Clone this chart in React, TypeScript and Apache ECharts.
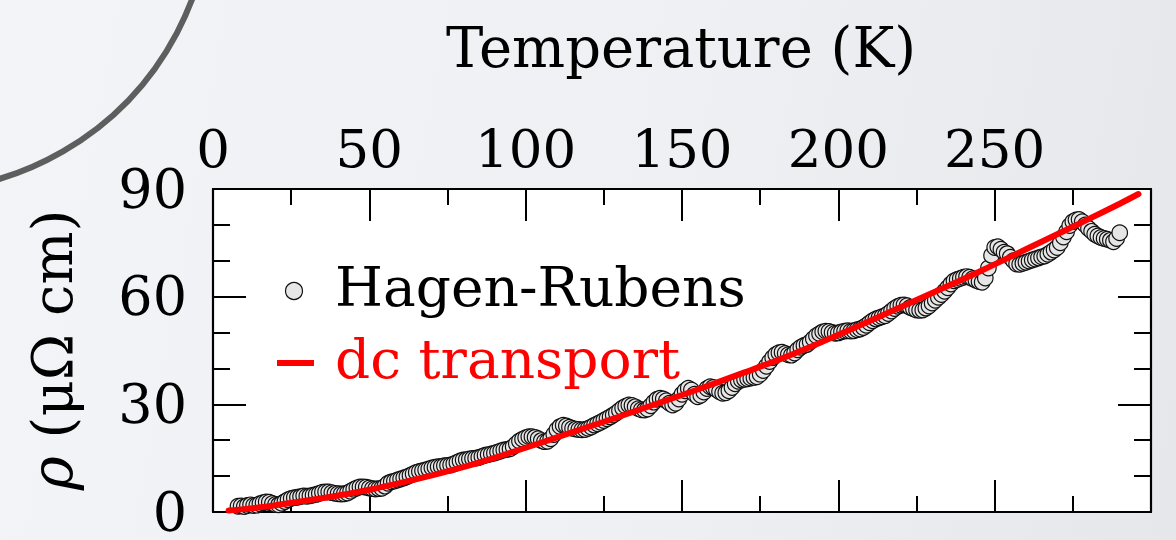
import React, { useEffect, useRef } from "react";
import * as echarts from "echarts";

// Hagen-Rubens resistivity (µΩ cm), one point per kelvin starting at 8 K
const hrFirstTemp = 8;
const hrTempStep = 1;
const hagenRubens = [
  1.6, 1.7, 1.5, 1.8, 2.0, 1.8, 1.9, 2.3, 2.6, 2.8,
  2.7, 2.4, 2.1, 2.0, 2.4, 2.9, 3.4, 3.8, 4.0, 4.1,
  4.3, 4.5, 4.4, 4.5, 4.7, 4.9, 5.2, 5.5, 5.6, 5.6,
  5.4, 5.2, 5.1, 5.0, 5.1, 5.3, 5.8, 6.3, 6.7, 7.0,
  7.0, 6.9, 6.7, 6.5, 6.4, 6.5, 6.6, 7.2, 8.0, 8.4,
  8.6, 8.9, 9.2, 9.5, 9.8, 10.2, 10.6, 11.0, 11.3, 11.5,
  11.7, 12.0, 12.3, 12.5, 12.6, 12.7, 12.9, 13.0, 13.1, 13.4,
  13.8, 14.2, 14.5, 14.6, 14.8, 14.9, 15.0, 15.2, 15.5, 15.8,
  16.0, 16.2, 16.4, 16.7, 17.0, 17.3, 17.4, 17.6, 18.2, 19.0,
  19.8, 20.3, 20.7, 21.0, 21.0, 20.8, 20.4, 19.9, 19.6, 19.7,
  20.4, 21.6, 22.9, 23.8, 24.2, 24.0, 23.6, 23.3, 23.1, 23.0,
  22.9, 23.0, 23.3, 23.7, 24.2, 24.6, 25.0, 25.5, 26.0, 26.5,
  27.0, 27.6, 28.3, 29.0, 29.5, 29.8, 29.7, 29.3, 28.8, 28.5,
  28.4, 28.7, 29.6, 30.6, 31.4, 31.7, 31.5, 31.0, 30.3, 29.8,
  30.3, 31.5, 32.8, 33.8, 34.5, 34.0, 32.8, 32.1, 32.5, 33.4,
  34.4, 34.9, 34.7, 34.1, 33.5, 33.1, 33.2, 33.8, 34.7, 35.7,
  36.4, 36.8, 37.0, 37.1, 37.3, 37.5, 37.7, 38.4, 39.4, 40.6,
  41.9, 43.0, 43.9, 44.4, 44.5, 44.2, 43.8, 43.7, 44.3, 45.2,
  45.9, 46.4, 46.7, 47.4, 48.3, 49.1, 49.7, 50.2, 50.4, 50.3,
  50.0, 49.8, 49.9, 50.2, 50.4, 50.5, 50.4, 50.5, 50.8, 51.0,
  51.4, 52.0, 52.7, 53.3, 53.8, 54.1, 54.4, 54.7, 55.3, 56.0,
  56.7, 57.3, 57.6, 57.7, 57.5, 57.0, 56.6, 56.3, 56.2, 56.3,
  56.8, 57.4, 58.2, 59.0, 59.8, 60.6, 61.5, 62.5, 63.5, 64.4,
  64.8, 65.1, 65.4, 65.6, 65.4, 65.0, 64.6, 64.2, 64.0, 65.2,
  68.0, 71.5, 73.7, 73.9, 73.2, 72.4, 72.0, 71.0, 70.0, 69.1,
  69.0, 69.3, 69.6, 69.9, 70.2, 70.5, 70.8, 71.1, 71.3, 71.8,
  72.4, 73.0, 73.7, 75.0, 76.6, 78.1, 79.8, 80.9, 81.4, 81.5,
  80.9, 80.0, 79.0, 78.2, 77.4, 76.9, 76.5, 76.2, 76.0, 75.7,
  75.3, 76.2, 77.8,
];

// dc transport resistivity curve
const dcTemps = [5, 10, 20, 30, 40, 50, 60, 70, 80, 90, 100, 110, 120, 130, 140, 150, 160, 170, 180, 190, 200, 210, 220, 230, 240, 250, 260, 270, 280, 290, 296];
const dcRho = [0.4, 0.8, 1.9, 3.2, 4.6, 6.2, 8.1, 10.2, 12.5, 15.1, 17.9, 20.8, 23.7, 26.6, 29.6, 32.6, 35.7, 38.9, 42.1, 45.6, 49.4, 53.2, 57.1, 61.0, 64.9, 69.0, 73.2, 77.4, 81.6, 85.9, 88.6];

const tempTicks = [0, 50, 100, 150, 200, 250];
const rhoTicks = [0, 30, 60, 90];

const FONT = "DejaVu Serif";
const INK = "#000000";

export default function App() {
  const ref = useRef<HTMLDivElement>(null);

  useEffect(() => {
    if (!ref.current) return;
    const chart = echarts.init(ref.current, undefined, { renderer: "svg" });

    const hrData = hagenRubens.map((v, i) => [hrFirstTemp + i * hrTempStep, v]);
    const dcData = dcTemps.map((t, i) => [t, dcRho[i]]);

    const frameLine = { show: true, onZero: false, lineStyle: { color: INK, width: 2.2 } };

    const xBase = {
      type: "value" as const,
      min: 0,
      max: 300,
      interval: 50,
      splitLine: { show: false },
      axisLine: frameLine,
      minorTick: { show: true, splitNumber: 2, length: 16, lineStyle: { color: INK, width: 2 } },
      minorSplitLine: { show: false },
    };
    const yBase = {
      type: "value" as const,
      min: 0,
      max: 90,
      interval: 30,
      splitLine: { show: false },
      axisLine: frameLine,
      minorTick: { show: true, splitNumber: 3, length: 17, lineStyle: { color: INK, width: 2 } },
      minorSplitLine: { show: false },
    };

    chart.setOption({
      animation: false,
      backgroundColor: "transparent",
      grid: { left: 213, top: 189, width: 938, height: 323, containLabel: false, backgroundColor: "#ffffff", show: true, borderWidth: 0 },
      xAxis: [
        {
          ...xBase,
          position: "top",
          axisTick: { show: true, inside: true, length: 32, lineStyle: { color: INK, width: 2 } },
          axisLabel: {
            show: true,
            margin: 14,
            color: INK,
            fontFamily: FONT,
            fontSize: 53,
            formatter: (v: number) => (tempTicks.includes(v) ? String(v) : ""),
          },
        },
        {
          ...xBase,
          position: "bottom",
          axisTick: { show: true, inside: true, length: 32, lineStyle: { color: INK, width: 2 } },
          axisLabel: { show: false },
        },
      ],
      yAxis: [
        {
          ...yBase,
          position: "left",
          axisTick: { show: true, inside: true, length: 33, lineStyle: { color: INK, width: 2 } },
          axisLabel: {
            show: true,
            margin: 26,
            color: INK,
            fontFamily: FONT,
            fontSize: 54,
            formatter: (v: number) => (rhoTicks.includes(v) ? String(v) : ""),
          },
        },
        {
          ...yBase,
          position: "right",
          axisTick: { show: true, inside: true, length: 33, lineStyle: { color: INK, width: 2 } },
          axisLabel: { show: false },
        },
      ],
      series: [
        {
          name: "Hagen-Rubens",
          type: "scatter",
          xAxisIndex: 0,
          yAxisIndex: 0,
          data: hrData,
          symbol: "circle",
          symbolSize: 15.5,
          itemStyle: { color: "#e6e6e6", borderColor: "#111111", borderWidth: 1.2, opacity: 1 },
          z: 2,
        },
        {
          name: "dc transport",
          type: "line",
          xAxisIndex: 0,
          yAxisIndex: 0,
          data: dcData,
          smooth: 0.3,
          showSymbol: false,
          symbol: "none",
          lineStyle: { color: "#ff0000", width: 6, cap: "round" },
          z: 3,
        },
      ],
      graphic: [
        {
          type: "circle",
          silent: true,
          shape: { cx: -85, cy: -105, r: 296 },
          style: { fill: "none", stroke: "#5b5f5e", lineWidth: 6 },
        },
        {
          type: "text",
          x: 681,
          y: 47,
          style: {
            text: "Temperature (K)",
            align: "center",
            verticalAlign: "middle",
            fontFamily: FONT,
            fontSize: 56,
            fill: INK,
          },
        },
        {
          type: "text",
          x: 52,
          y: 350,
          rotation: Math.PI / 2,
          style: {
            text: "{i|ρ} (μΩ cm)",
            align: "center",
            verticalAlign: "middle",
            fontFamily: FONT,
            fontSize: 56,
            fill: INK,
            rich: { i: { fontStyle: "italic", fontFamily: FONT, fontSize: 58, fill: INK } },
          },
        },
        {
          type: "circle",
          shape: { cx: 294, cy: 291, r: 8.5 },
          style: { fill: "#e6e6e6", stroke: "#111111", lineWidth: 1.2 },
          z: 10,
        },
        {
          type: "text",
          x: 335,
          y: 287,
          style: { text: "Hagen-Rubens", align: "left", verticalAlign: "middle", fontFamily: FONT, fontSize: 55, fill: INK },
          z: 10,
        },
        {
          type: "line",
          shape: { x1: 277, y1: 363, x2: 314, y2: 363 },
          style: { stroke: "#ff0000", lineWidth: 6 },
          z: 10,
        },
        {
          type: "text",
          x: 335,
          y: 359,
          style: { text: "dc transport", align: "left", verticalAlign: "middle", fontFamily: FONT, fontSize: 55, fill: "#ff0000" },
          z: 10,
        },
      ],
    });

    return () => chart.dispose();
  }, []);

  return (
    <div
      style={{
        position: "fixed",
        left: 0,
        top: 0,
        width: 1176,
        height: 540,
        background: "linear-gradient(100deg, #f3f4f8 0%, #eef0f4 55%, #e5e7eb 100%)",
      }}
    >
      <div ref={ref} style={{ width: 1176, height: 540 }} />
    </div>
  );
}
